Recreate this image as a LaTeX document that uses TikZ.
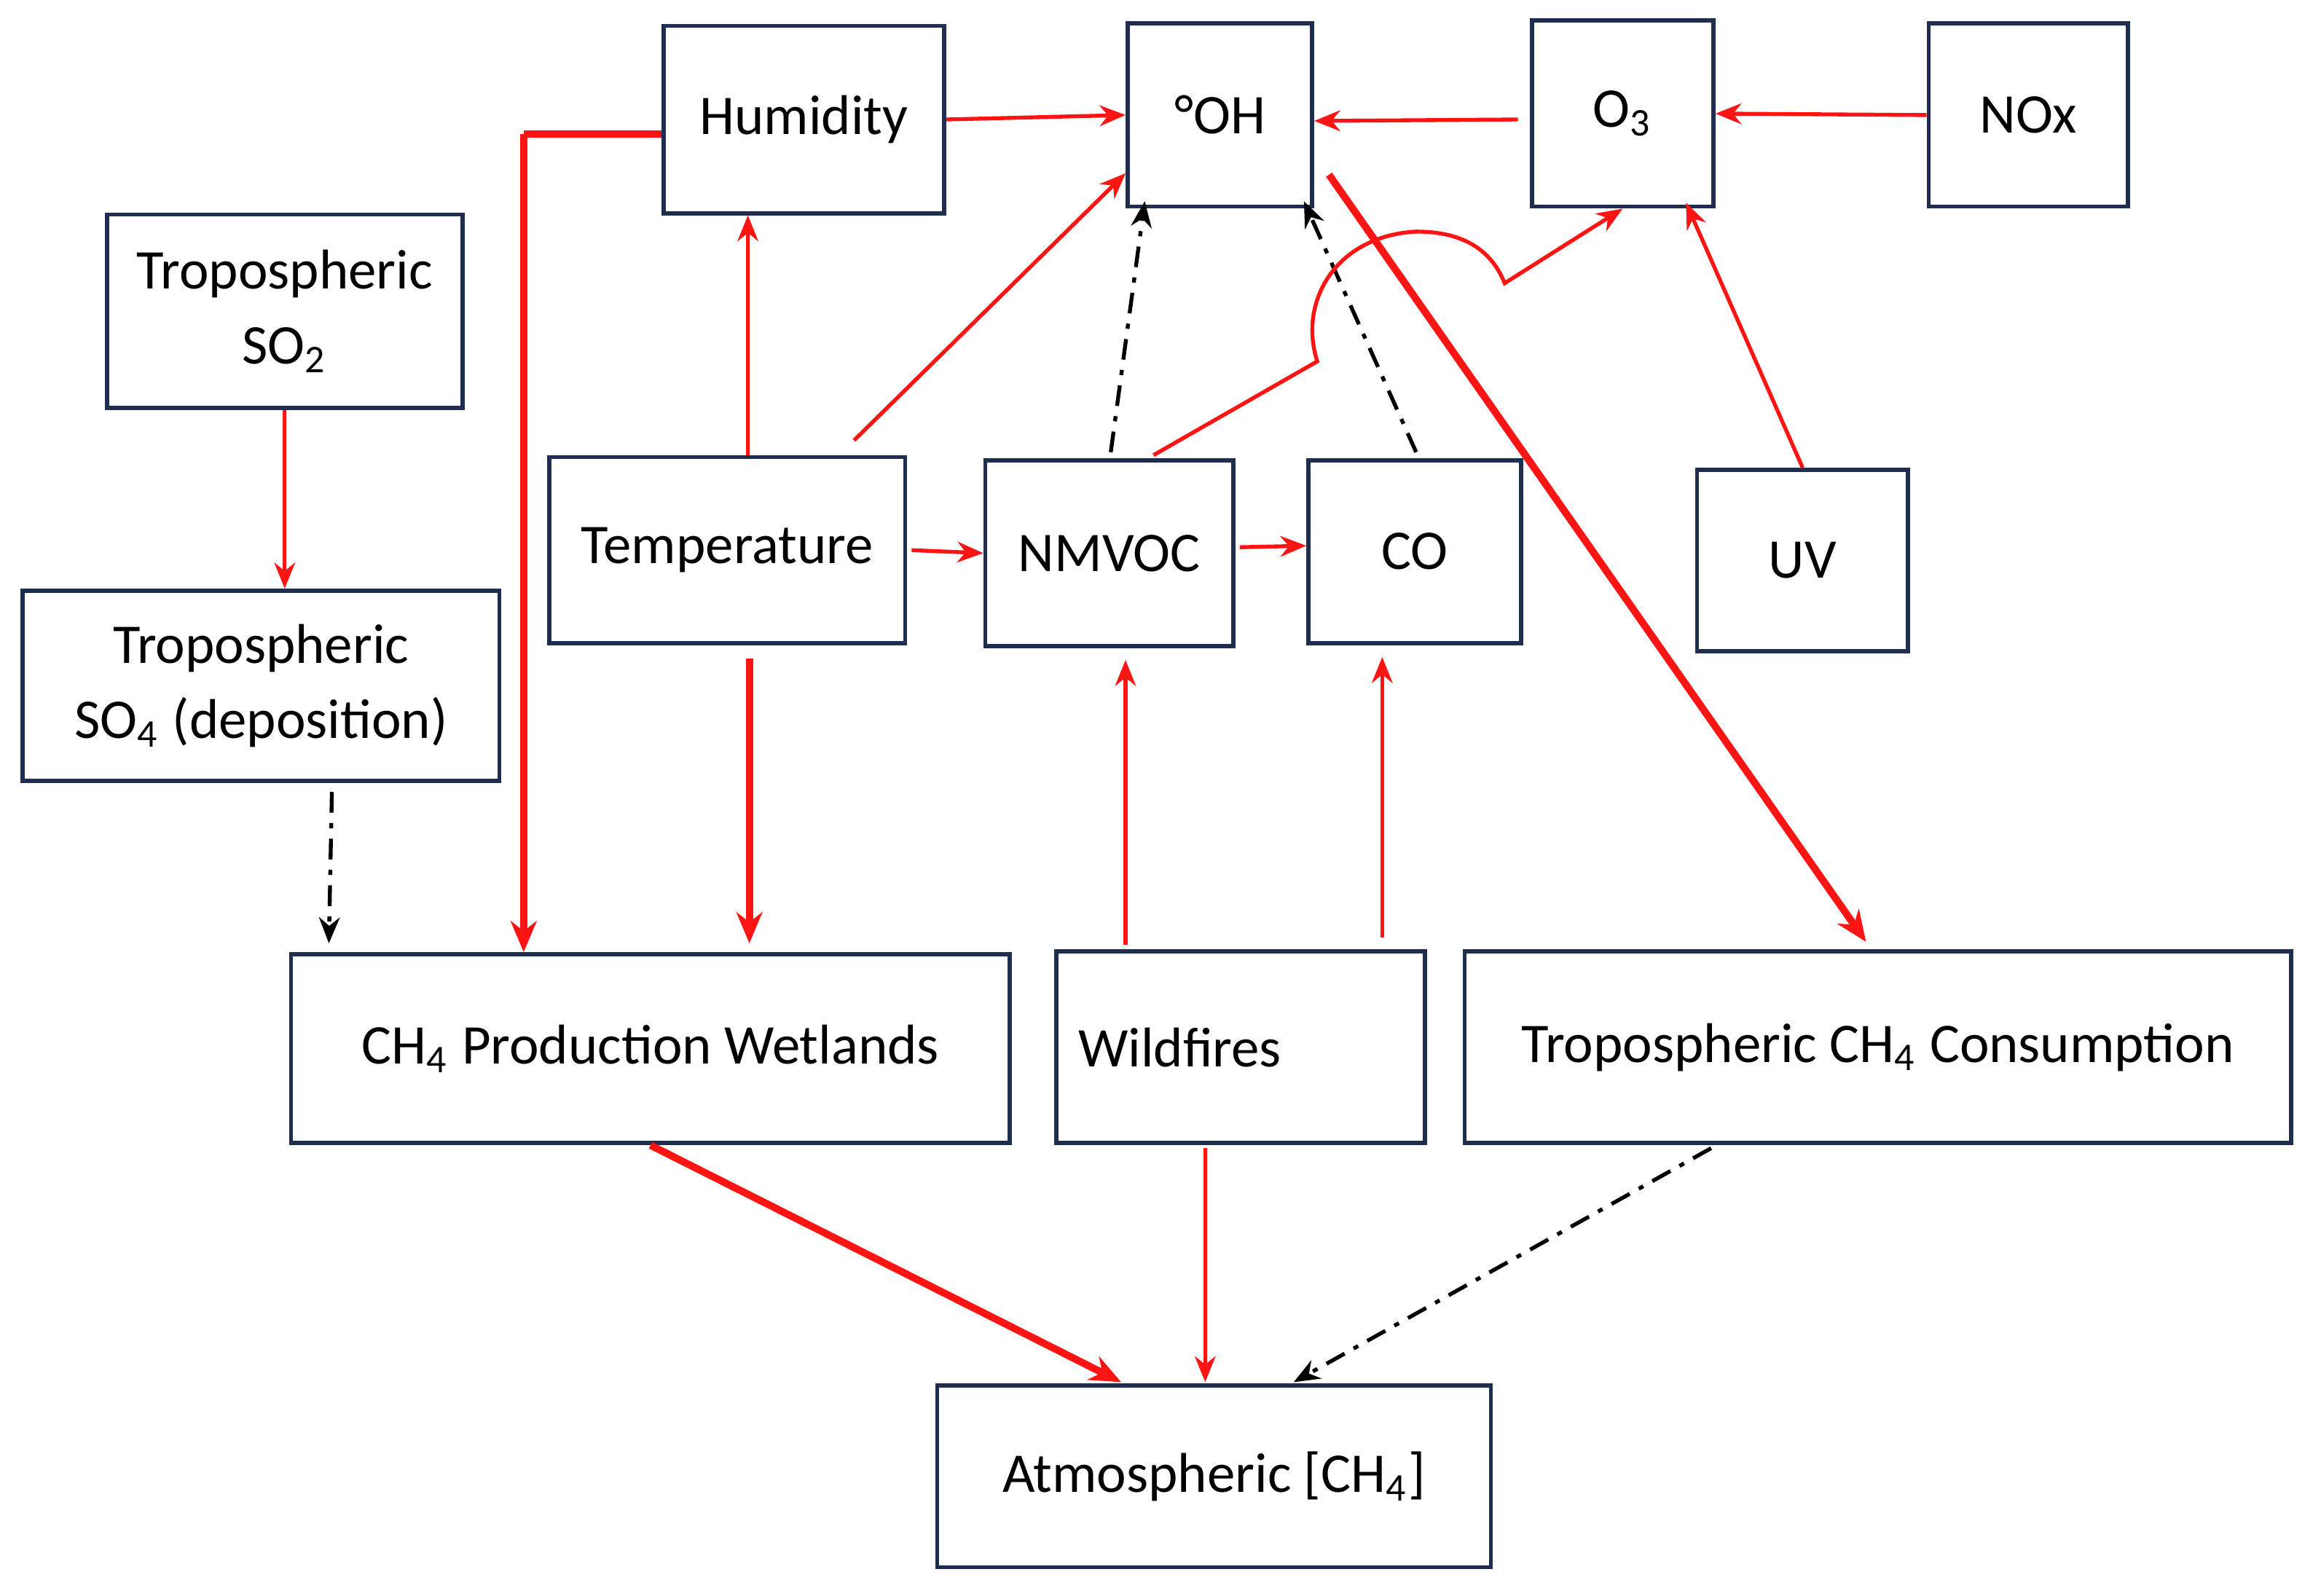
\documentclass[tikz,border=0pt]{standalone}
\usepackage{fontspec}
\setmainfont{Carlito}
\usetikzlibrary{arrows.meta,calc}
\definecolor{boxblue}{RGB}{31,45,80}
\definecolor{arrred}{RGB}{255,20,20}
\begin{document}
\begin{tikzpicture}[x=0.01cm,y=-0.01cm,
  box/.style={draw=boxblue,line width=0.8pt,align=center,inner sep=0pt,
    font=\fontsize{10.8}{14.5}\selectfont},
  rd/.style={draw=arrred,line width=0.75pt,-{Stealth[length=5pt,width=4pt]}},
  rdthick/.style={draw=arrred,line width=1.4pt,-{Stealth[length=6pt,width=5pt]}},
  bk/.style={draw=black,line width=0.75pt,dash pattern=on 4pt off 2pt on 1pt off 2pt,-{Stealth[length=5pt,width=4pt]}}]
\useasboundingbox (0,0) rectangle (1568,1082);
% top row
\node[box,minimum width=1.9cm,minimum height=1.27cm] (hum) at (545,81) {Humidity};
\node[box,minimum width=1.25cm,minimum height=1.24cm] (oh) at (827,78) {°OH};
\node[box,minimum width=1.23cm,minimum height=1.26cm] (o3) at (1100,77) {O\textsubscript{3}};
\node[box,minimum width=1.35cm,minimum height=1.24cm] (nox) at (1375,78) {NOx};
% middle
\node[box,minimum width=2.41cm,minimum height=1.31cm] (so2) at (193,211) {Tropospheric\\SO\textsubscript{2}};
\node[box,minimum width=2.41cm,minimum height=1.26cm] (temp) at (493,373) {Temperature};
\node[box,minimum width=1.68cm,minimum height=1.26cm] (nmvoc) at (752,375) {NMVOC};
\node[box,minimum width=1.44cm,minimum height=1.24cm] (co) at (959,374) {CO};
\node[box,minimum width=1.43cm,minimum height=1.23cm] (uv) at (1222,380) {UV};
\node[box,minimum width=3.23cm,minimum height=1.29cm] (so4) at (177,465) {Tropospheric\\SO\textsubscript{4} (deposition)};
% bottom
\node[box,minimum width=4.87cm,minimum height=1.28cm] (wet) at (441,711) {CH\textsubscript{4} Production Wetlands};
\node[box,minimum width=2.5cm,minimum height=1.3cm,text width=2.2cm,align=left] (fire) at (841,710) {Wildfires};
\node[box,minimum width=5.6cm,minimum height=1.3cm] (cons) at (1273,710) {Tropospheric CH\textsubscript{4} Consumption};
\node[box,minimum width=3.75cm,minimum height=1.23cm] (atm) at (823,1001) {Atmospheric [CH\textsubscript{4}]};
% connectors
\draw[rd] (hum.east) -- (oh.west);
\draw[rd] ($(o3.west)+(-8,4)$) -- ($(oh.east)+(0,4)$);
\draw[rd] (nox.west) -- (o3.east);
\draw[rd] (so2.south) -- (so4.north -| so2.south);
\draw[rdthick,-] ($(hum.west)+(0,10)$) -- (355,91) coordinate (hk);
\draw[rdthick] (hk) -- (hk |- wet.north);
\draw[rd] ($(temp.north)+(14,0)$) -- ($(hum.south)+(-38,0)$);
\draw[rd] ($(temp.north east)+(-36,-10)$) -- ($(oh.south west)+(0,-24)$);
\draw[bk] ($(nmvoc.north)+(1,-4)$) -- ($(oh.south west)+(13,-5)$);
\draw[bk] ($(co.north)+(1,-4)$) -- ($(oh.south east)+(-7,-5)$);
\draw[rd] ($(nmvoc.north)+(30,-2)$) -- (893,245)
  .. controls (880,205) and (905,160) .. (960,157)
  .. controls (995,157) and (1012,172) .. (1020,192) -- (o3.south);
\draw[rd] (uv.north) -- ($(o3.south east)+(-20,-4)$);
\draw[rdthick] ($(oh.south east)+(10,-23)$) -- ($(cons.north)+(-8,-5)$);
\draw[rd] ($(temp.east)+(3,0)$) -- (nmvoc.west);
\draw[rd] ($(nmvoc.east)+(3,-4)$) -- ($(co.west)+(0,-4)$);
\draw[rdthick] ($(temp.south)+(15,9)$) -- ($(wet.north)+(67,-6)$);
\draw[bk] ($(so4.south)+(48,6)$) -- ($(wet.north west)+(27,-6)$);
\draw[rd] ($(fire.north)+(-78,-3)$) -- ($(nmvoc.south)+(11,8)$);
\draw[rd] ($(fire.north)+(96,-8)$) -- ($(co.south)+(-22,8)$);
\draw[rdthick] (wet.south) -- ($(atm.north)+(-63,-1)$);
\draw[rd] ($(fire.south)+(-24,2)$) -- ($(atm.north)+(-6,-1)$);
\draw[bk] ($(cons.south)+(-113,2)$) -- ($(atm.north)+(54,-1)$);
\end{tikzpicture}
\end{document}
